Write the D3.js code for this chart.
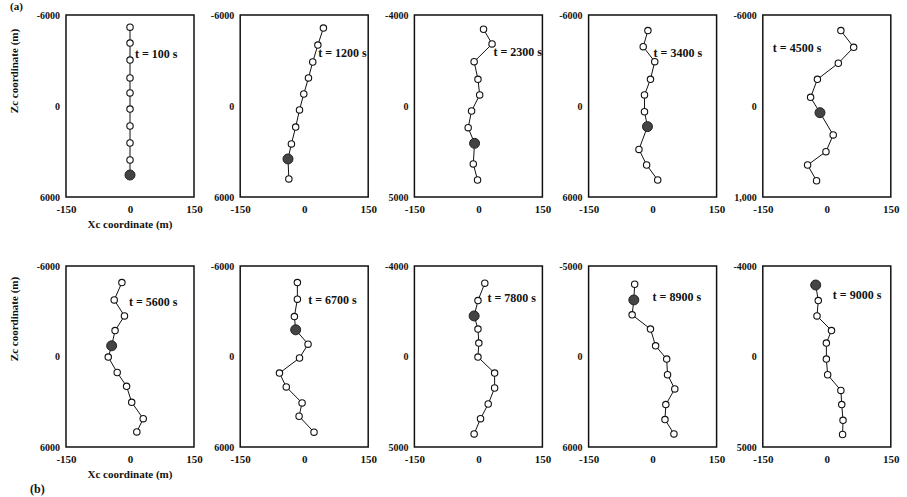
<!DOCTYPE html>
<html><head><meta charset="utf-8">
<script src="https://cdn.jsdelivr.net/npm/d3@7"></script>
<style>body{margin:0;background:#fff}svg{display:block}</style>
</head><body><div id="chart"></div>
<script>
// ---- data ----
const timeLabels = ["t = 100 s","t = 1200 s","t = 2300 s","t = 3400 s","t = 4500 s","t = 5600 s","t = 6700 s","t = 7800 s","t = 8900 s","t = 9000 s"];
const highlightIndex = [9,8,7,6,5,4,3,2,1,0];
const x_p1 = [0,0,0,0,0,0,0,0,0,0];
const z_p1 = [-5200,-4150,-3030,-1850,-860,200,1320,2440,3560,4550];
const x_p2 = [45,32,20,10,-1,-11,-20,-30,-38,-36];
const z_p2 = [-5140,-4020,-2900,-1850,-790,260,1390,2500,3490,4810];
const x_p3 = [12,32,-10,-1,3,-16,-24,-9,-12,-2];
const z_p3 = [-5060,-4090,-2920,-1760,-730,330,1430,2460,3820,4880];
const x_p4 = [-11,-22,5,-5,-19,-19,-12,-32,-14,12];
const z_p4 = [-4970,-3910,-2920,-1760,-730,380,1360,2860,3890,4880];
const x_p5 = [33,63,27,-22,-38,-16,15,-2,-45,-24];
const z_p5 = [-4970,-3870,-2820,-1760,-570,440,1910,3010,3890,4930];
const x_p6 = [-19,-37,-13,-35,-43,-51,-30,-8,4,31,16];
const z_p6 = [-4900,-3750,-2690,-1720,-710,40,1060,1980,3040,4120,5000];
const x_p7 = [-16,-16,-23,-20,9,-11,-58,-42,-5,-12,23];
const z_p7 = [-4900,-3800,-2650,-1770,-820,100,1100,2020,3080,3960,5020];
const x_p8 = [15,-1,-10,-1,1,-1,38,38,23,5,-10];
const z_p8 = [-4860,-3710,-2690,-1820,-890,40,1100,2090,3150,4120,5130];
const x_p9 = [-42,-44,-48,-5,7,33,35,52,31,29,50];
const z_p9 = [-4790,-3750,-2760,-1820,-710,170,1210,2150,3190,4180,5130];
const x_p10 = [-26,-20,-23,11,-1,-1,2,33,35,38,37];
const z_p10 = [-4740,-3710,-2690,-1720,-890,170,1210,2250,3190,4230,5170];
const xTickValues = [-150,0,150];
const xTickLabels = ["-150","0","150"];
const yTickValues = [-6000,0,6000];
const yTickLabels = [
  ["-6000","0","6000"],["-6000","0","6000"],["-4000","0","5000"],["-6000","0","6000"],["-6000","0","1,000"],
  ["-6000","0","6000"],["-6000","0","6000"],["-4000","0","5000"],["-5000","0","6000"],["-4000","0","5000"]
];
const xSeries = [x_p1,x_p2,x_p3,x_p4,x_p5,x_p6,x_p7,x_p8,x_p9,x_p10];
const zSeries = [z_p1,z_p2,z_p3,z_p4,z_p5,z_p6,z_p7,z_p8,z_p9,z_p10];

// ---- layout ----
const W = 907, H = 497;
const FONT = "'Liberation Serif','Times New Roman',serif";
const labelOffsets = [[69,39],[78,38],[79,37],[65,38],[10,33],[63,36],[68,34],[73,32],[64,31],[70,29]];

const svg = d3.select("#chart").append("svg").attr("width", W).attr("height", H)
  .style("font-family", FONT);

for (let i = 0; i < 10; i++) {
  const row = i < 5 ? 0 : 1, col = i % 5;
  const left = 66 + col * 174.2, top = row ? 266 : 15;
  const w = 128, h = row ? 181 : 182;
  const x = d3.scaleLinear().domain([-150,150]).range([left, left + w]);
  const y = d3.scaleLinear().domain([-6000,6000]).range([top, top + h]);
  const g = svg.append("g");

  g.append("rect").attr("x", left).attr("y", top).attr("width", w).attr("height", h)
    .attr("fill", "none").attr("stroke", "#111").attr("stroke-width", 1.5);

  const ya = g.append("g").attr("transform", `translate(${left},0)`)
    .call(d3.axisLeft(y).tickValues(yTickValues).tickSize(0).tickPadding(6)
      .tickFormat((d, j) => yTickLabels[i][j]));
  ya.select(".domain").remove();
  ya.selectAll("text").attr("font-family", FONT).attr("font-weight", "bold").attr("font-size", 10).attr("fill", "#111");

  const xa = g.append("g").attr("transform", `translate(0,${top + h})`)
    .call(d3.axisBottom(x).tickValues(xTickValues).tickSize(0).tickPadding(8)
      .tickFormat((d, j) => xTickLabels[j]));
  xa.select(".domain").remove();
  xa.selectAll("text").attr("font-family", FONT).attr("font-weight", "bold").attr("font-size", 11).attr("fill", "#111");

  const pts = xSeries[i].map((v, k) => ({x: v, z: zSeries[i][k], k}));
  g.append("path").datum(pts)
    .attr("d", d3.line().x(d => x(d.x)).y(d => y(d.z)))
    .attr("fill", "none").attr("stroke", "#111").attr("stroke-width", 1);
  g.selectAll("circle.o").data(pts.filter(d => d.k !== highlightIndex[i])).join("circle")
    .attr("cx", d => x(d.x)).attr("cy", d => y(d.z)).attr("r", 3.2)
    .attr("fill", "#fff").attr("stroke", "#111").attr("stroke-width", 1.1);
  g.selectAll("circle.f").data(pts.filter(d => d.k === highlightIndex[i])).join("circle")
    .attr("cx", d => x(d.x)).attr("cy", d => y(d.z)).attr("r", 5)
    .attr("fill", "#444").attr("stroke", "#222").attr("stroke-width", 1);

  g.append("text").attr("x", left + labelOffsets[i][0]).attr("y", top + labelOffsets[i][1])
    .attr("dy", "0.35em").attr("font-weight", "bold").attr("font-size", 12).attr("fill", "#111")
    .text(timeLabels[i]);

  if (col === 0) {
    g.append("text").attr("x", left + w / 2).attr("y", top + h + 31)
      .attr("text-anchor", "middle").attr("font-weight", "bold").attr("font-size", 11).attr("fill", "#111")
      .text("Xc coordinate (m)");
    const cy = row ? 319 : 71;
    g.append("text").attr("transform", `translate(18,${cy}) rotate(-90)`)
      .attr("text-anchor", "middle").attr("font-weight", "bold").attr("font-size", 11).attr("fill", "#111")
      .text("Zc coordinate (m)");
  }
}
svg.append("text").attr("x", 10).attr("y", 10).attr("font-weight", "bold").attr("font-size", 11).attr("fill", "#111").text("(a)");
svg.append("text").attr("x", 30).attr("y", 493).attr("font-weight", "bold").attr("font-size", 12).attr("fill", "#111").text("(b)");
</script></body></html>
